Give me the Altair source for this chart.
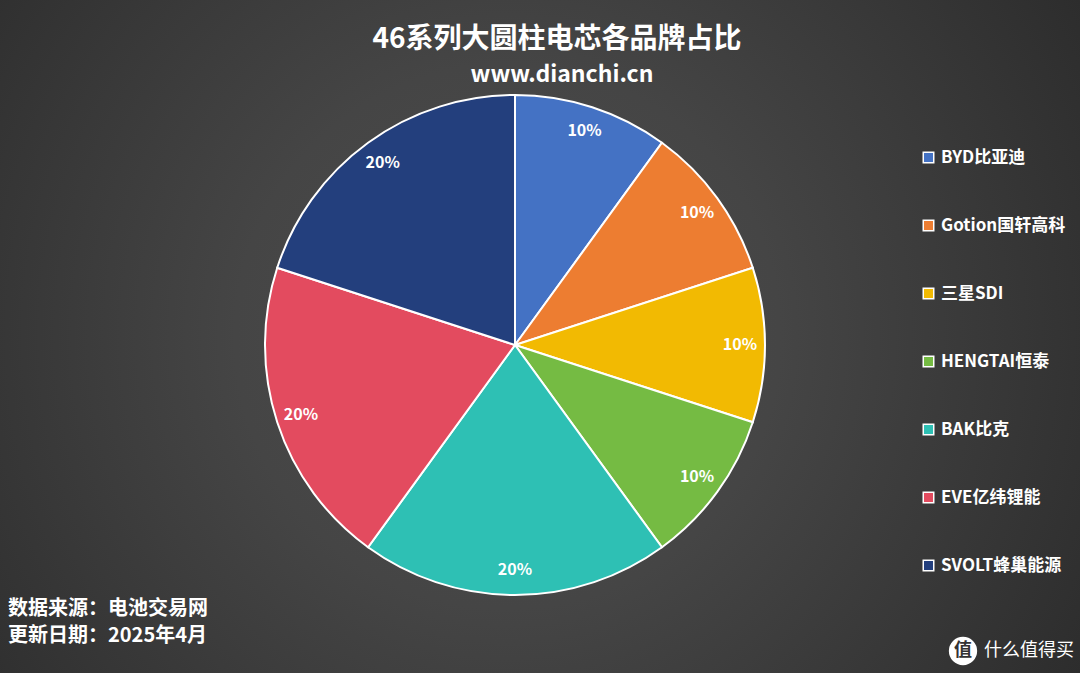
import altair as alt
import pandas as pd

brands = ["BYD比亚迪", "Gotion国轩高科", "三星SDI", "HENGTAI恒泰", "BAK比克", "EVE亿纬锂能", "SVOLT蜂巢能源"]
shares = [10, 10, 10, 10, 20, 20, 20]
colors = ["#4472C4", "#ED7D31", "#F2BA02", "#75BB43", "#2EC0B4", "#E34B5F", "#233F7D"]

title_text = "46系列大圆柱电芯各品牌占比"
subtitle_text = "www.dianchi.cn"
footer_lines = ["数据来源：电池交易网", "更新日期：2025年4月"]
watermark = "什么值得买"

FONT = "Noto Sans CJK SC"
W, H = 1080, 673
CX, CY, R = 515, 345, 250

df = pd.DataFrame({
    "brand": brands,
    "share": shares,
    "idx": list(range(len(brands))),
    "label": [f"{v}%" for v in shares],
})

bg = alt.Chart(alt.Data(values=[{}])).mark_rect(
    fill=alt.Gradient(
        gradient="radial",
        stops=[alt.GradientStop(color="#4d4d4d", offset=0),
               alt.GradientStop(color="#454545", offset=0.35),
               alt.GradientStop(color="#262626", offset=1)],
        x1=0.47, y1=0.5, x2=0.47, y2=0.5, r1=0, r2=0.72,
    )
).encode(x=alt.value(0), x2=alt.value(W), y=alt.value(0), y2=alt.value(H))

base = alt.Chart(df).encode(
    theta=alt.Theta("share:Q", stack=True),
    order=alt.Order("idx:Q"),
)

pie = base.mark_arc(radius=R, stroke="white", strokeWidth=2).encode(
    color=alt.Color(
        "brand:N",
        scale=alt.Scale(domain=brands, range=colors),
        legend=alt.Legend(
            title=None,
            orient="none",
            legendX=920,
            legendY=149,
            symbolType="square",
            symbolSize=110,
            symbolStrokeColor="white",
            symbolStrokeWidth=1.5,
            symbolOpacity=1,
            labelColor="white",
            labelFont=FONT,
            labelFontWeight="bold",
            labelFontSize=17,
            labelOffset=4,
            labelLimit=200,
            rowPadding=50,
            padding=0,
        ),
    ),
    x=alt.value(CX),
    y=alt.value(CY),
)

labels = base.mark_text(
    radius=225, color="white", font=FONT, fontWeight="bold", fontSize=16,
).encode(text="label:N", x=alt.value(CX), y=alt.value(CY))

title = alt.Chart(alt.Data(values=[{"t": title_text}])).mark_text(
    font=FONT, fontWeight="bold", fontSize=28, color="white", align="center", baseline="middle"
).encode(text="t:N", x=alt.value(557), y=alt.value(40))
subtitle = alt.Chart(alt.Data(values=[{"t": subtitle_text}])).mark_text(
    font=FONT, fontWeight="bold", fontSize=23, color="white", align="center", baseline="middle"
).encode(text="t:N", x=alt.value(562), y=alt.value(75))

foot1 = alt.Chart(alt.Data(values=[{"t": footer_lines[0]}])).mark_text(
    font=FONT, fontWeight="bold", fontSize=20, color="white", align="left", baseline="middle"
).encode(text="t:N", x=alt.value(8), y=alt.value(609))
foot2 = alt.Chart(alt.Data(values=[{"t": footer_lines[1]}])).mark_text(
    font=FONT, fontWeight="bold", fontSize=20, color="white", align="left", baseline="middle"
).encode(text="t:N", x=alt.value(8), y=alt.value(636))

wm_circle = alt.Chart(alt.Data(values=[{}])).mark_point(
    shape="circle", filled=True, color="white", opacity=1, size=800
).encode(x=alt.value(963), y=alt.value(651))
wm_icon = alt.Chart(alt.Data(values=[{"t": "值"}])).mark_text(
    font=FONT, fontWeight="bold", fontSize=18, color="#333333", align="center", baseline="middle"
).encode(text="t:N", x=alt.value(963), y=alt.value(651))
wm_text = alt.Chart(alt.Data(values=[{"t": watermark}])).mark_text(
    font=FONT, fontSize=18, color="white", align="left", baseline="middle"
).encode(text="t:N", x=alt.value(984), y=alt.value(651))

chart = alt.layer(
    bg, pie, labels, title, subtitle, foot1, foot2, wm_circle, wm_icon, wm_text
).properties(
    width=W, height=H,
    autosize=alt.AutoSizeParams(type="none"),
    padding=0,
    background="#2e2e2e",
).configure_view(stroke=None)

chart.save("out.html", embed_options={"renderer": "svg", "actions": False})
